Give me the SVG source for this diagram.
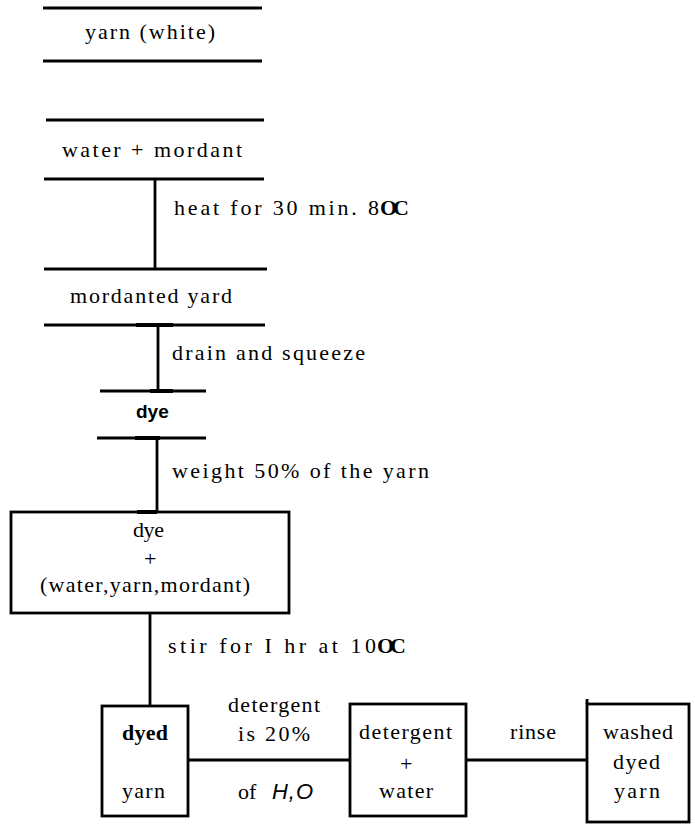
<svg xmlns="http://www.w3.org/2000/svg" width="695" height="825" viewBox="0 0 695 825">
  <!-- Dyeing process flow: stages are ruled labels or boxes, joined by plain lines -->
  <g stroke="#000" stroke-width="2.8" fill="none">
    <g id="yarn-white">
      <line x1="43" y1="8" x2="262" y2="8"/>
      <line x1="43" y1="61" x2="262" y2="61"/>
    </g>
    <g id="water-mordant">
      <line x1="46" y1="120" x2="264" y2="120"/>
      <line x1="44" y1="179" x2="264" y2="179"/>
    </g>
    <g id="mordanted-yard">
      <line x1="44" y1="269" x2="267" y2="269"/>
      <line x1="44" y1="325" x2="265" y2="325"/>
    </g>
    <g id="dye">
      <line x1="100" y1="391" x2="206" y2="391"/>
      <line x1="97" y1="438" x2="206" y2="438"/>
    </g>
    <g id="dye-mix">
      <rect x="11" y="512" width="278" height="101"/>
    </g>
    <g id="dyed-yarn">
      <rect x="102" y="706" width="86" height="110"/>
    </g>
    <g id="detergent-water">
      <rect x="350" y="704" width="116" height="112"/>
    </g>
    <g id="washed-dyed-yarn">
      <rect x="587" y="704" width="102" height="118"/>
      <line x1="587" y1="699" x2="587" y2="704"/>
    </g>
    <g id="connectors">
      <line x1="155" y1="179" x2="155" y2="269"/>
      <line x1="158" y1="325" x2="158" y2="391"/>
      <line x1="157" y1="438" x2="157" y2="512"/>
      <line x1="150" y1="613" x2="150" y2="706"/>
      <line x1="188" y1="760" x2="350" y2="760"/>
      <line x1="466" y1="760" x2="587" y2="760"/>
      <g stroke-width="4">
        <line x1="136" y1="325" x2="173" y2="325"/>
        <line x1="150" y1="391" x2="173" y2="391"/>
        <line x1="135" y1="438" x2="160" y2="438"/>
        <line x1="137" y1="512" x2="157" y2="512"/>
      </g>
    </g>
  </g>

  <g id="texts" fill="#000">
    <text x="85" y="39" font-family="Liberation Serif" font-size="22" textLength="130" lengthAdjust="spacing">yarn (white)</text>
    <text x="62" y="157" font-family="Liberation Serif" font-size="22" textLength="180" lengthAdjust="spacing">water + mordant</text>
    <text x="70" y="303" font-family="Liberation Serif" font-size="22" textLength="162" lengthAdjust="spacing">mordanted yard</text>
    <text x="136" y="418" font-family="Liberation Sans" font-weight="bold" font-size="19">dye</text>

    <text x="133" y="537" font-family="Liberation Serif" font-size="22" textLength="31" lengthAdjust="spacing">dye</text>
    <text x="144" y="566" font-family="Liberation Serif" font-size="22">+</text>
    <text x="40" y="592" font-family="Liberation Serif" font-size="22" textLength="210" lengthAdjust="spacing">(water,yarn,mordant)</text>

    <text x="122" y="740" font-family="Liberation Serif" font-weight="bold" font-size="22" textLength="46" lengthAdjust="spacing">dyed</text>
    <text x="122" y="798" font-family="Liberation Serif" font-size="22" textLength="43" lengthAdjust="spacing">yarn</text>

    <text x="359" y="739" font-family="Liberation Serif" font-size="22" textLength="93" lengthAdjust="spacing">detergent</text>
    <text x="400" y="771" font-family="Liberation Serif" font-size="22">+</text>
    <text x="379" y="798" font-family="Liberation Serif" font-size="22" textLength="54" lengthAdjust="spacing">water</text>

    <text x="603" y="739" font-family="Liberation Serif" font-size="22" textLength="70" lengthAdjust="spacing">washed</text>
    <text x="613" y="769" font-family="Liberation Serif" font-size="22" textLength="47" lengthAdjust="spacing">dyed</text>
    <text x="614" y="798" font-family="Liberation Serif" font-size="22" textLength="46" lengthAdjust="spacing">yarn</text>

    <text x="174" y="215" font-family="Liberation Serif" font-size="22" textLength="205" lengthAdjust="spacing">heat for 30 min. 8</text>
    <text x="380" y="215" font-family="Liberation Serif" font-weight="bold" font-size="22" textLength="29" lengthAdjust="spacing">OC</text>
    <text x="172" y="360" font-family="Liberation Serif" font-size="22" textLength="193" lengthAdjust="spacing">drain and squeeze</text>
    <text x="172" y="478" font-family="Liberation Serif" font-size="22" textLength="257" lengthAdjust="spacing">weight 50% of the yarn</text>
    <text x="168" y="653" font-family="Liberation Serif" font-size="22" textLength="208" lengthAdjust="spacing">stir for I hr at 10</text>
    <text x="377" y="653" font-family="Liberation Serif" font-weight="bold" font-size="22" textLength="29" lengthAdjust="spacing">OC</text>
    <text x="228" y="712" font-family="Liberation Serif" font-size="22" textLength="92" lengthAdjust="spacing">detergent</text>
    <text x="238" y="741" font-family="Liberation Serif" font-size="22" textLength="72" lengthAdjust="spacing">is 20%</text>
    <text x="238" y="799" font-family="Liberation Serif" font-size="22">of</text>
    <text x="272" y="799" font-family="Liberation Sans" font-style="italic" font-size="22" textLength="41" lengthAdjust="spacing">H,O</text>
    <text x="510" y="739" font-family="Liberation Serif" font-size="22" textLength="46" lengthAdjust="spacing">rinse</text>
  </g>
</svg>
